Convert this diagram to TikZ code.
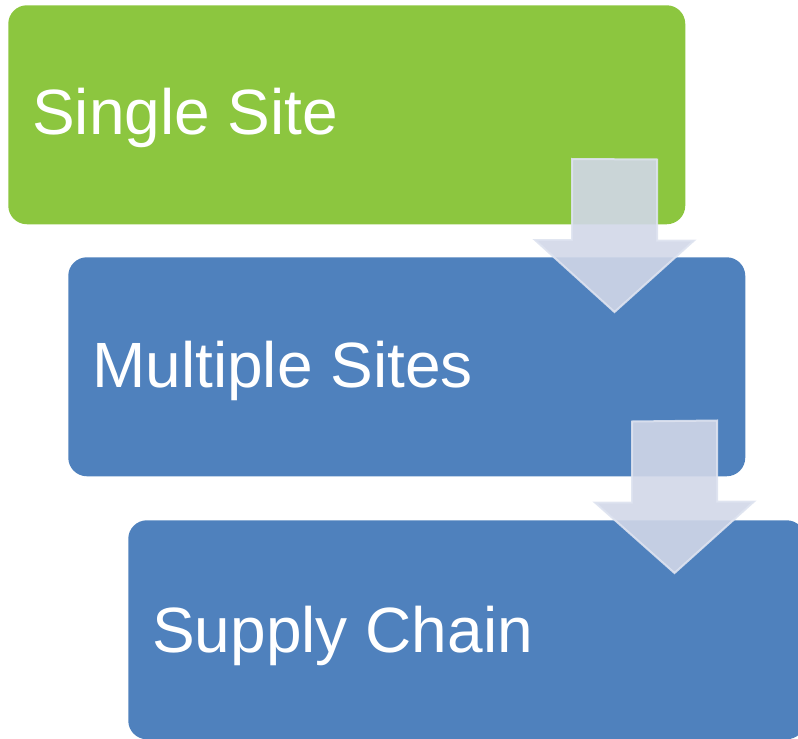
\documentclass[tikz,border=0pt]{standalone}
\usepackage{fontspec}
\setmainfont{Liberation Sans}
\usepackage{tikz}
\usetikzlibrary{positioning,calc}
\definecolor{sitegreen}{RGB}{140,198,63}
\definecolor{siteblue}{RGB}{79,129,189}
\definecolor{arrowfill}{RGB}{209,215,232}
\definecolor{arrowline}{RGB}{222,227,240}
\tikzstyle{stage}=[rectangle,rounded corners=14pt,minimum width=507.75pt,minimum height=164.25pt,inner sep=0pt,anchor=north west]
\tikzstyle{stagetext}=[anchor=base west,inner sep=0pt,text=white,font=\fontsize{48}{57}\selectfont]
\tikzstyle{flowarrow}=[fill=arrowfill,fill opacity=0.9,draw=arrowline,draw opacity=0.9,line width=1.5pt,line join=miter]

\begin{document}
\begin{tikzpicture}[x=0.75pt,y=-0.75pt]
  \useasboundingbox (0,0) rectangle (798,738);
  \clip (0,0) rectangle (798,738);

  \node[stage,fill=sitegreen] (single) at (8,5) {};
  \node[stage,fill=siteblue] (multi) at (68,257) {};
  \node[stage,fill=siteblue] (chain) at (128,520) {};

  \node[stagetext] (tsingle) at ($(single.north west)+(24,130)$) {Single Site};
  \node[stagetext] (tmulti) at ($(multi.north west)+(24,130.5)$) {Multiple Sites};
  \node[stagetext] (tchain) at ($(chain.north west)+(24,132.5)$) {Supply Chain};

  \coordinate (a1top) at (614.5,159);
  \coordinate (a1tip) at (614.5,312);
  \coordinate (a2top) at (674.5,421.5);
  \coordinate (a2tip) at (674.5,573);

  \foreach \a in {a1,a2}
    \draw[flowarrow] (\a top) ++(-42.5,0) -- ++(0,81) -- ++(-37,0)
      -- (\a tip) -- ++(79.5,-71.5) -- ++(-37,0) -- ++(0,-81) -- cycle;

\end{tikzpicture}
\end{document}
